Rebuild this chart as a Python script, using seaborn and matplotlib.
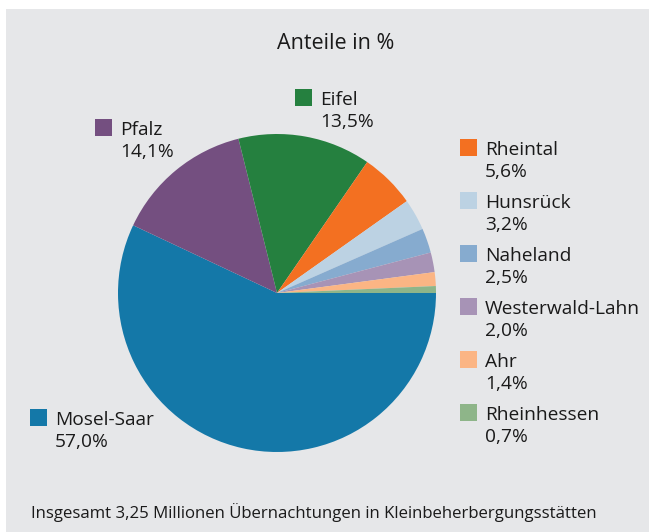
import matplotlib
matplotlib.use("Agg")
import matplotlib.pyplot as plt
from matplotlib.patches import Rectangle
import seaborn as sns

# data
regions = ["Mosel-Saar", "Pfalz", "Eifel", "Rheintal", "Hunsrück",
           "Naheland", "Westerwald-Lahn", "Ahr", "Rheinhessen"]
shares = [57.0, 14.1, 13.5, 5.6, 3.2, 2.5, 2.0, 1.4, 0.7]
share_labels = ["57,0%", "14,1%", "13,5%", "5,6%", "3,2%",
                "2,5%", "2,0%", "1,4%", "0,7%"]
colors = ["#1478a8", "#744f80", "#25803f", "#f37021", "#bcd2e3",
          "#86abcf", "#a793b6", "#fbb584", "#8eb589"]
title = "Anteile in %"
footer = "Insgesamt 3,25 Millionen Übernachtungen in Kleinbeherbergungsstätten"

sns.set_theme(style="white")
plt.rcParams["font.family"] = ["Open Sans", "DejaVu Sans"]

W, H = 649, 532
BG = "#e6e7e9"
TXT = "#1a1a1a"
fig = plt.figure(figsize=(W / 100, H / 100), dpi=100, facecolor="white")


def fx(x):
    return x / W


def fy(y):
    return 1 - y / H


# grey panel
fig.patches.append(Rectangle((fx(6), 0), 1 - fx(6), fy(9), transform=fig.transFigure,
                             facecolor=BG, edgecolor="none", zorder=-5))

# pie, centre (277, 293), radius 159 px
cx, cy, r = 277, 293, 159
ax = fig.add_axes([fx(cx - r), fy(cy + r), 2 * r / W, 2 * r / H])
ax.set_zorder(2)
ax.patch.set_visible(False)
ax.pie(shares, colors=colors, startangle=0, counterclock=False, radius=1,
       wedgeprops=dict(linewidth=0))
ax.set_xlim(-1, 1)
ax.set_ylim(-1, 1)
ax.axis("off")

fig.text(fx(336), fy(49), title, ha="center", va="baseline", fontsize=15.5, color=TXT)

# label positions: (square x, name baseline y)
label_pos = {
    "Mosel-Saar": (30, 425),
    "Pfalz": (95, 135),
    "Eifel": (295, 105),
    "Rheintal": (460, 155),
    "Hunsrück": (460, 208),
    "Naheland": (460, 261),
    "Westerwald-Lahn": (460, 314),
    "Ahr": (460, 367),
    "Rheinhessen": (460, 420),
}
for name, lab, col in zip(regions, share_labels, colors):
    sx, by = label_pos[name]
    fig.patches.append(Rectangle((fx(sx), fy(by + 1)), 17 / W, 17 / H,
                                 transform=fig.transFigure, facecolor=col,
                                 edgecolor="none", zorder=2))
    fig.text(fx(sx + 25), fy(by), name, ha="left", va="baseline", fontsize=13.8, color=TXT)
    fig.text(fx(sx + 25), fy(by + 22), lab, ha="left", va="baseline", fontsize=13.8, color=TXT)

fig.text(fx(31), fy(518), footer, ha="left", va="baseline", fontsize=12.1, color=TXT)

fig.savefig("out.png", dpi=100, facecolor="white")
